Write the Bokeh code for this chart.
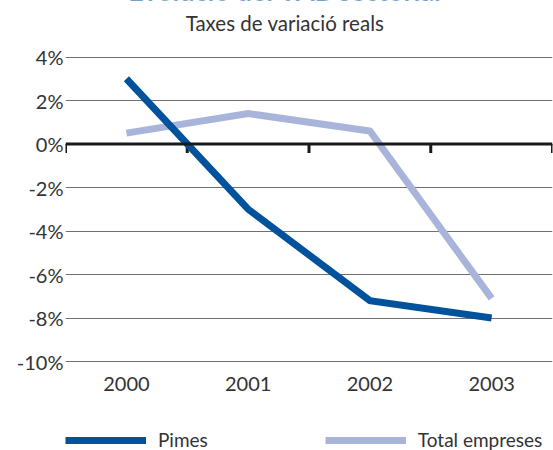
from bokeh.plotting import figure
from bokeh.models import Range1d, FixedTicker, Span, Legend, LegendItem
from bokeh.core.properties import value
from bokeh.embed import file_html
from bokeh.resources import INLINE

# ---- data ----
years = ["2000", "2001", "2002", "2003"]
pimes = [3.0, -3.0, -7.2, -8.0]
total = [0.5, 1.4, 0.6, -7.1]
y_ticks = [-10, -8, -6, -4, -2, 0, 2, 4]
y_tick_labels = ["-10%", "-8%", "-6%", "-4%", "-2%", "0%", "2%", "4%"]
series_names = ["Pimes", "Total empreses"]
title_text = "Evolució del VAB sectorial"
subtitle_text = "Taxes de variació reals"

FONT = "Lato"
TXT = "#333333"
DARK = "#00529c"
LIGHT = "#a9b4da"

W, H = 553, 450
LEFT, RIGHT = 65, 1
# pixel rows of the top and bottom gridlines
PY_TOP, PY_BOT = 56.5, 361.0
ymin_t, ymax_t = min(y_ticks), max(y_ticks)
px_per_y = (PY_BOT - PY_TOP) / (ymax_t - ymin_t)


def ypx(py):
    """data y for a canvas pixel row"""
    return ymax_t - (py - PY_TOP) / px_per_y


frame_w = W - LEFT - RIGHT
px_per_x = frame_w / len(years)


def xpx(px):
    return -0.5 + (px - LEFT) / px_per_x


xs = list(range(len(years)))

p = figure(width=W, height=H, output_backend="svg", toolbar_location=None,
           x_range=Range1d(-0.5, len(years) - 0.5),
           y_range=Range1d(ypx(H), ypx(0)),
           x_axis_location=None,
           min_border_left=LEFT, min_border_right=RIGHT,
           min_border_top=0, min_border_bottom=0)
p.outline_line_color = None
p.background_fill_color = "white"
p.border_fill_color = "white"

# y axis
p.yaxis.ticker = FixedTicker(ticks=y_ticks)
p.yaxis.major_label_overrides = {t: l for t, l in zip(y_ticks, y_tick_labels)}
p.yaxis.axis_line_color = None
p.yaxis.major_tick_line_color = None
p.yaxis.minor_tick_line_color = None
p.yaxis.major_tick_out = 0
p.yaxis.major_tick_in = 0
p.yaxis.major_label_text_font = FONT
p.yaxis.major_label_text_font_size = "20px"
p.yaxis.major_label_text_color = TXT
p.yaxis.major_label_standoff = 2

p.xgrid.visible = False
p.ygrid.ticker = FixedTicker(ticks=y_ticks)
p.ygrid.grid_line_color = "#707070"
p.ygrid.grid_line_width = 1.2

# x category labels under the bottom gridline
p.text(x=xs, y=[ypx(383)] * len(xs), text=years,
       text_font=value(FONT), text_font_size="20px", text_color=TXT,
       text_align="center", text_baseline="alphabetic")

# zero line with category-boundary ticks
p.add_layout(Span(location=0, dimension="width", line_color="#1a1a1a", line_width=3))
bounds = [i - 0.5 for i in range(len(years) + 1)]
tick_len = 9 / px_per_y
p.segment(x0=bounds, y0=[0] * len(bounds), x1=bounds, y1=[-tick_len] * len(bounds),
          line_color="#1a1a1a", line_width=3)

r_total = p.line(xs, total, line_color=LIGHT, line_width=7, line_join="miter")
r_pimes = p.line(xs, pimes, line_color=DARK, line_width=7, line_join="miter")

# titles
cx = xpx(284.5)
p.text(x=[cx], y=[ypx(22.5)], text=[subtitle_text],
       text_font=value(FONT), text_font_size="20.5px", text_color=TXT,
       text_align="center", text_baseline="alphabetic")
p.text(x=[cx], y=[ypx(-10)], text=[title_text],
       text_font=value(FONT), text_font_size="27px", text_font_style="bold",
       text_color=DARK, text_align="center", text_baseline="alphabetic")

legend = Legend(items=[LegendItem(label=series_names[0], renderers=[r_pimes]),
                       LegendItem(label=series_names[1], renderers=[r_total])],
                orientation="horizontal", location=(0, H - 451),
                glyph_width=81, glyph_height=20, label_height=20,
                label_standoff=12, spacing=117, padding=0, margin=0,
                border_line_color=None, background_fill_alpha=0,
                label_text_font=FONT, label_text_font_size="19px",
                label_text_color=TXT)
p.add_layout(legend)

open("out.html", "w").write(file_html(p, INLINE))
